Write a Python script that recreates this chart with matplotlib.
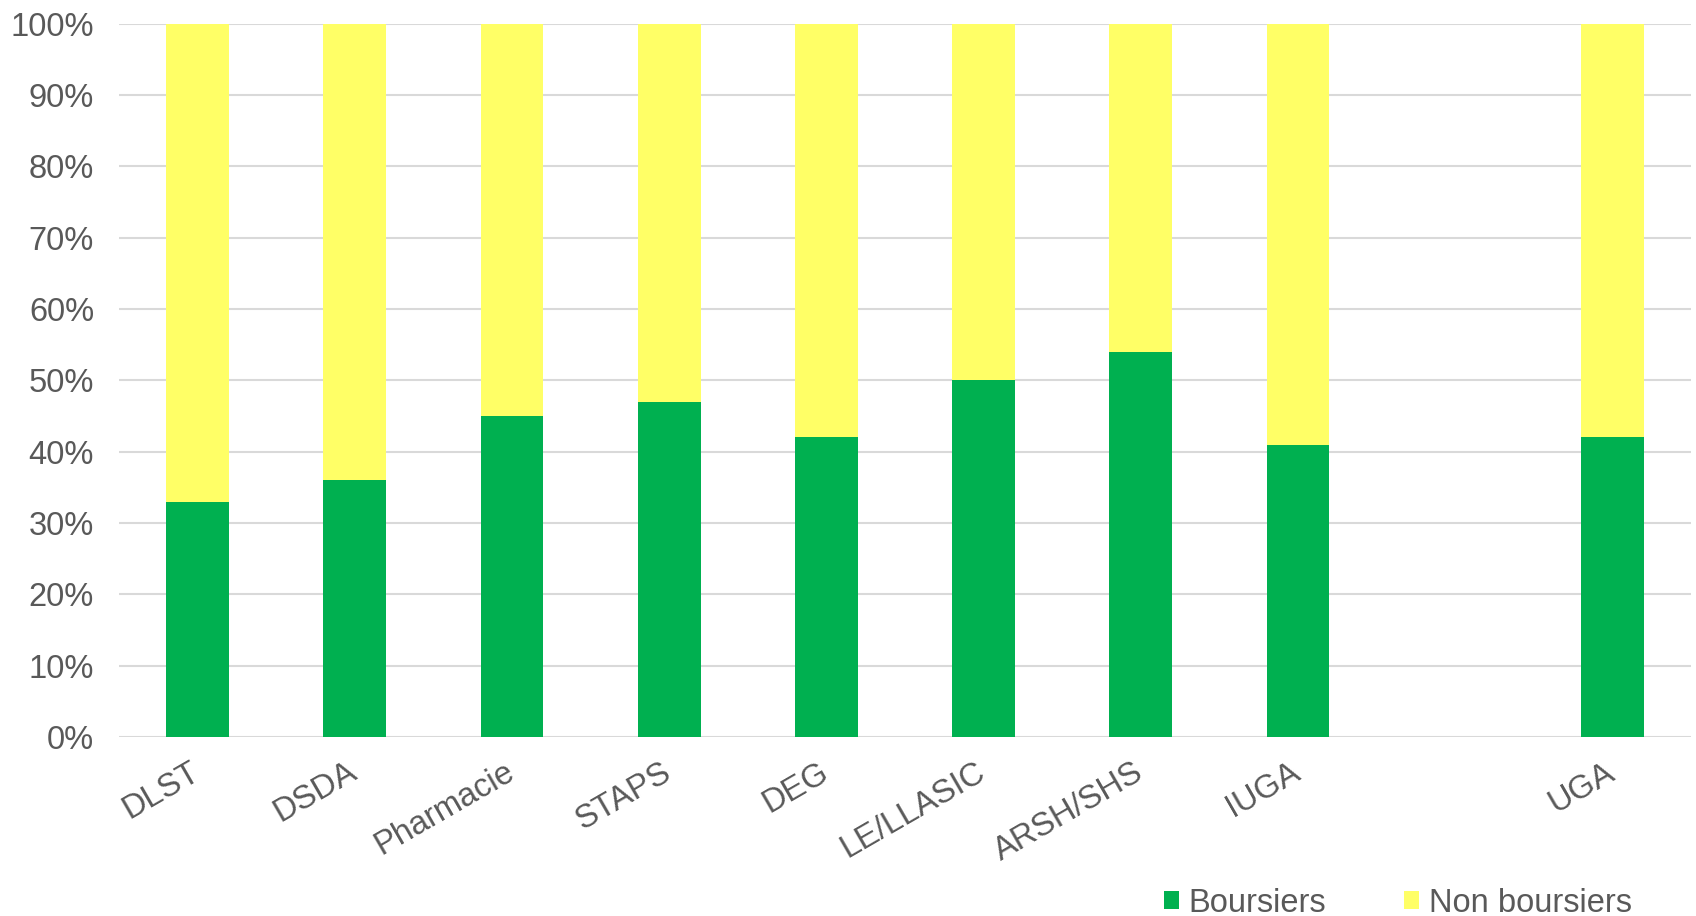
import numpy as np
import matplotlib.pyplot as plt
import matplotlib.transforms as mtransforms
from matplotlib.ticker import PercentFormatter

plt.rcParams['font.family'] = ['Liberation Sans', 'DejaVu Sans']

categories = ['DLST', 'DSDA', 'Pharmacie', 'STAPS', 'DEG', 'LE/LLASIC',
              'ARSH/SHS', 'IUGA', '', 'UGA']
boursiers = np.array([33, 36, 45, 47, 42, 50, 54, 41, np.nan, 42]) / 100.0
non_boursiers = 1.0 - boursiers

txt = '#595959'
fs = 23.5
x = np.arange(len(categories))

fig = plt.figure(figsize=(16.96, 9.16), dpi=100)
ax = fig.add_axes([0.0702, 0.1954, 0.9268, 0.7786])

ax.bar(x, boursiers, width=0.4, color='#00B050', label='Boursiers', zorder=3)
ax.bar(x, non_boursiers, width=0.4, bottom=boursiers, color='#FFFF66',
       label='Non boursiers', zorder=3)

ax.set_xlim(-0.5, len(categories) - 0.5)
ax.set_ylim(0, 1)
ax.set_yticks(np.arange(0, 1.01, 0.1))
ax.yaxis.set_major_formatter(PercentFormatter(1.0, decimals=0))
ax.grid(axis='y', color='#D9D9D9', linewidth=1.5, zorder=0)
ax.set_axisbelow(True)
for s in ax.spines.values():
    s.set_visible(False)
ax.tick_params(length=0, labelsize=fs, colors=txt)
ax.tick_params(axis='y', pad=18)
ax.set_xticks(x)
ax.set_xticklabels(categories, rotation=30, ha='right', rotation_mode='anchor')
ax.tick_params(axis='x', pad=14)
shift = mtransforms.ScaledTranslation(-0.08, 0, fig.dpi_scale_trans)
for lab in ax.get_xticklabels():
    lab.set_transform(lab.get_transform() + shift)

fig.legend(loc='center', bbox_to_anchor=(1398 / 1696, 1 - 903 / 916), ncol=2,
           frameon=False, fontsize=fs, labelcolor=txt, handlelength=0.45,
           handleheight=0.45, handletextpad=0.3, columnspacing=2.4)

plt.savefig('out.png', dpi=100)
plt.close()
